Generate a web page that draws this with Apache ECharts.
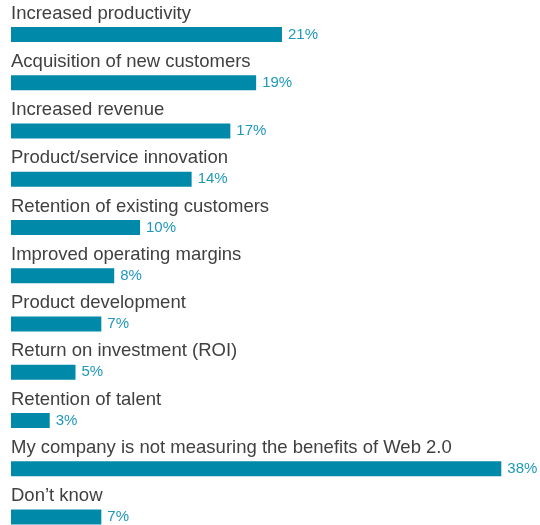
<!DOCTYPE html>
<html>
<head>
<meta charset="utf-8">
<script src="https://cdn.jsdelivr.net/npm/echarts@6/dist/echarts.min.js"></script>
<style>
  html, body { margin: 0; padding: 0; background: #ffffff; overflow: hidden; }
  #chart { width: 540px; height: 545px; }
</style>
</head>
<body>
<div id="chart"></div>
<script>
// Measured benefits of Web 2.0 (share of respondents, %)
const categories = [
  'Increased productivity',
  'Acquisition of new customers',
  'Increased revenue',
  'Product/service innovation',
  'Retention of existing customers',
  'Improved operating margins',
  'Product development',
  'Return on investment (ROI)',
  'Retention of talent',
  'My company is not measuring the benefits of Web 2.0',
  'Don\u2019t know'
];
const shares = [21, 19, 17, 14, 10, 8, 7, 5, 3, 38, 7];

const chart = echarts.init(document.getElementById('chart'), null, { renderer: 'canvas' });

chart.setOption({
  animation: false,
  backgroundColor: '#ffffff',
  grid: { left: 11, right: 0, top: 10.4, height: 530.75, containLabel: false },
  xAxis: {
    type: 'value', min: 0, max: 41,
    show: false
  },
  yAxis: {
    type: 'category', data: categories, inverse: true,
    show: false
  },
  series: [
    {
      // the bars with their percentage labels
      type: 'bar',
      data: shares,
      barWidth: 15,
      itemStyle: { color: '#0089a8' },
      label: {
        show: true,
        position: 'right',
        distance: 6,
        formatter: '{c}%',
        color: '#1f98ba',
        fontFamily: 'Liberation Sans, Arial, sans-serif',
        fontSize: 15
      },
      z: 2
    },
    {
      // category captions written above each bar
      type: 'bar',
      data: shares,
      barWidth: 15,
      barGap: '-100%',
      itemStyle: { color: 'rgba(0,0,0,0)' },
      silent: true,
      label: {
        show: true,
        position: [0, -4],
        align: 'left',
        verticalAlign: 'bottom',
        formatter: (p) => categories[p.dataIndex],
        color: '#404040',
        fontFamily: 'Liberation Sans, Arial, sans-serif',
        fontSize: 18.5
      },
      z: 3
    }
  ]
});
</script>
</body>
</html>
